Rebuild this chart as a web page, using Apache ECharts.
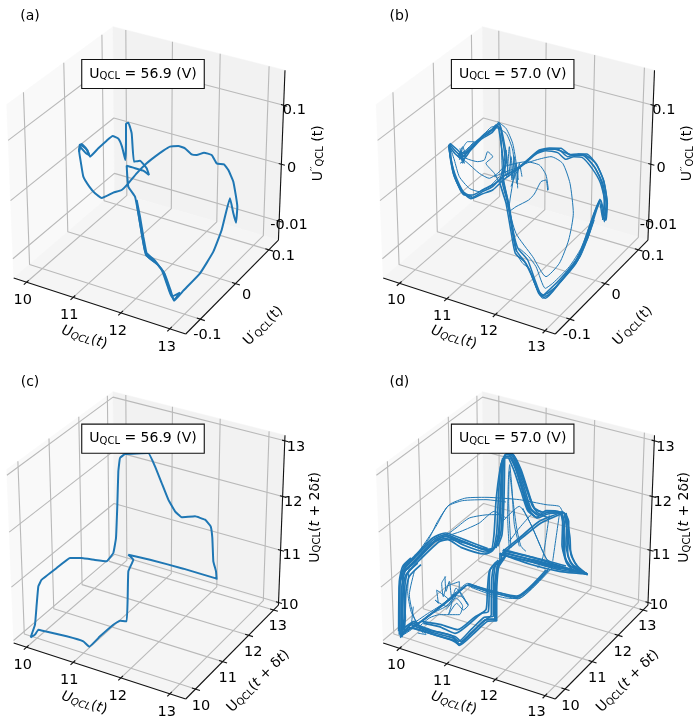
<!DOCTYPE html>
<html><head><meta charset="utf-8">
<style>html,body{margin:0;padding:0;background:#fff}#c{width:693px;height:716px}</style>
<script src="https://cdn.jsdelivr.net/npm/echarts@6/dist/echarts.min.js"></script>
</head><body><div id="c"></div>
<script>
// Axis ranges and ticks of the four 3D panels
const limitsA={x:[9.72,13.32],y:[-0.14,0.13],z:[-0.134,0.158]};
const limitsB={x:[9.65,13.2],y:[-0.14,0.13],z:[-0.134,0.158]};
const limitsC={x:[9.72,13.32],y:[9.65,13.2],z:[9.95,13.1]};
const limitsD={x:[9.65,13.2],y:[9.65,13.2],z:[9.95,13.1]};
const voltTicks=[10,11,12,13];
const derivTicks=[-0.1,0,0.1];
const derivZLabels=['-0.01','0','0.1'];
const derivYLabels=['-0.1','0','0.1'];
const voltLabels=['10','11','12','13'];
const boxTexts=['56.9','57.0','56.9','57.0'];
const panelTags=['(a)','(b)','(c)','(d)'];

// Projected trajectories (view-plane units)
const traceA1=[[240,432],[262,450],[270,470],[295,445],[320,422],[338,408],[355,416],[366,440],[376,480],[378,420],[378,372],[385,368],[395,400],[402,485],[420,482],[440,505],[447,525],[430,512],[400,503],[380,497],[385,560],[405,590],[415,640],[425,700],[438,765],[470,790],[490,815],[505,860],[522,902],[550,872],[600,820],[640,755],[665,690],[690,595],[700,640],[708,668],[712,620],[700,545],[685,510],[672,493],[650,490],[635,465],[612,458],[590,465],[575,463],[555,445],[535,438],[510,440],[490,452],[465,470],[440,490],[410,520],[385,550],[365,570],[340,578],[305,594],[285,580],[268,560],[250,530],[243,490],[237,450],[240,432]];
const traceA2=[[237,455],[245,432],[258,445],[268,465],[258,460],[240,440]];
const traceA3=[[410,600],[420,650],[430,710],[442,768],[474,795],[494,822],[512,872],[522,900],[540,878],[515,890],[500,850],[486,812],[465,782],[436,755],[422,680],[412,620]];
const traceC1=[[650,665],[648,640],[640,610],[637,540],[632,505],[615,485],[585,475],[545,478],[525,460],[505,425],[485,375],[465,325],[445,285],[375,288],[360,300],[355,340],[352,440],[348,540],[340,585],[320,610],[285,606],[245,600],[210,600],[170,630],[125,665],[115,685],[110,740],[105,800],[92,838],[105,830],[115,815],[135,820],[200,835],[250,850],[268,866],[300,835],[340,800],[360,788],[380,790],[383,720],[385,640],[400,605],[385,590],[450,605],[550,632],[650,662]];
const traceB1=[[310,432],[330,455],[350,470],[375,445],[410,410],[440,390],[458,368],[470,420],[478,490],[468,540],[485,610],[498,690],[510,750],[540,790],[560,830],[578,880],[598,895],[640,850],[690,790],[720,720],[745,640],[762,598],[775,665],[780,610],[770,550],[745,500],[715,468],[690,465],[665,470],[640,450],[605,447],[575,455],[545,480],[510,510],[470,530],[440,560],[410,575],[378,592],[350,578],[325,530],[312,470],[310,432]];
const traceB2=[[308,435],[328,462],[352,478],[380,440],[415,402],[445,385],[455,380],[465,430],[472,495],[462,545],[480,610],[495,695],[508,760],[535,785],[556,825],[575,870],[592,885],[632,858],[682,795],[715,725],[740,650],[760,605],[770,655],[775,600],[763,548],[738,505],[708,472],[684,470],[660,478],[635,458],[600,452],[570,462],[540,488],[505,515],[472,540],[440,570],[408,582],[375,596],[345,570],[322,520],[308,435]];
const traceB3=[[312,430],[335,450],[348,462],[372,452],[405,418],[438,398],[460,372],[475,430],[482,480],[472,530],[490,620],[503,700],[516,745],[545,780],[565,835],[585,885],[602,888],[645,842],[695,780],[725,710],[750,630],[764,600],[780,660],[783,612],[774,545],[752,495],[722,462],[695,462],[672,464],[645,445],[610,444],[580,450],[550,475],[515,505],[478,525],[445,552],[412,568],[380,585],[355,585],[330,540],[316,480],[312,430]];
const traceB4=[[345,460],[370,450],[400,420],[440,380],[480,400],[500,450],[505,510],[490,620],[510,700],[560,770],[600,830],[640,790],[668,720],[682,640],[672,550],[650,490],[615,470],[570,480],[530,495],[510,520],[495,560]];
const traceB5=[[455,365],[480,385],[500,430],[512,500],[515,565]];
const traceB6=[[460,380],[470,470],[482,530],[490,440],[498,540],[505,470],[512,550],[520,490],[528,530]];
const traceB7=[[605,572],[600,540],[585,545],[565,582],[548,600],[510,620],[492,632],[478,600],[465,560],[445,520],[420,490],[440,470],[425,455],[415,480],[395,485],[360,475],[345,460]];
const traceB8=[[340,480],[350,445],[365,425],[385,425],[360,450],[335,470],[360,485],[400,520],[430,535],[455,520],[475,500],[510,490],[540,485],[580,495],[600,525],[607,570]];
const traceB9=[[520,745],[548,770],[570,800],[598,865],[620,850],[670,800],[705,745],[735,665],[758,610]];
const traceB10=[[510,760],[530,790],[548,805],[563,845],[590,895],[650,835],[700,775],[718,735],[745,660]];
const traceB11=[[312,440],[325,480],[340,530],[370,565],[400,575],[430,560],[460,530]];
const traceB12=[[345,450],[355,490],[340,460],[360,470],[350,440],[340,470],[352,485],[345,455]];
const traceB13=[[308,440],[314,475],[328,525],[352,575],[378,590]];
const traceB14=[[770,660],[776,612],[768,552],[748,505],[720,470]];
const traceB15=[[778,662],[784,610],[772,540],[750,490],[718,465],[695,462]];
const traceB16=[[590,888],[640,840],[690,780],[725,715],[750,635],[762,600]];
const traceB17=[[560,468],[590,450],[625,447],[650,455],[680,466],[712,466]];
const traceB18=[[360,455],[395,420],[430,398],[450,375],[462,385]];
const traceB19=[[465,400],[470,520],[480,450],[488,530],[495,470],[503,540],[510,490],[517,540]];
const traceB20=[[445,530],[480,515],[520,500],[545,480]];
const traceB21=[[470,540],[485,600],[500,690],[512,755]];
const traceB22=[[342,445],[350,490],[358,455],[336,462],[356,480],[342,490]];
const traceD1=[[725,648],[690,632],[672,610],[660,560],[662,490],[650,462],[610,462],[580,472],[555,452],[535,390],[515,330],[497,292],[478,290],[468,320],[463,420],[458,520],[445,572],[420,582],[350,560],[300,535],[270,545],[205,610],[178,638],[168,680],[166,780],[165,835],[195,800],[215,808],[265,825],[320,840],[340,858],[380,820],[420,785],[447,782],[448,700],[455,625],[475,595],[470,582],[560,607],[650,632],[725,648]];
const traceD2=[[725,650],[695,625],[680,600],[668,550],[668,490],[655,465],[620,462],[590,462],[565,452],[545,395],[525,335],[503,292],[482,286],[472,315],[470,420],[465,520],[450,565],[425,578],[355,552],[298,530],[262,545],[200,605],[172,632],[162,675],[162,780],[163,838],[190,808],[218,815],[270,832],[325,848],[340,862],[385,825],[425,790],[452,788],[452,700],[458,628],[480,590],[472,575],[565,600],[655,628],[725,650]];
const traceD3=[[722,645],[685,638],[665,620],[652,570],[655,495],[645,465],[605,468],[575,480],[548,458],[528,395],[510,335],[493,295],[475,297],[464,325],[457,420],[452,525],[440,578],[415,588],[345,568],[305,545],[278,552],[212,615],[185,645],[176,690],[174,780],[170,830],[200,795],[212,800],[260,818],[315,832],[338,850],[375,815],[415,778],[442,775],[442,700],[448,622],[468,600],[465,590],[555,612],[645,636],[722,645]];
const traceD4=[[720,648],[680,628],[662,615],[648,560],[650,490],[640,462],[600,458],[572,478],[552,460],[532,400],[512,340],[490,300],[473,300],[462,335],[450,430],[444,530],[435,575],[410,572],[345,552],[295,542],[258,555],[195,620],[170,650],[172,690],[178,780],[168,815],[205,790],[225,810],[275,822],[328,836],[345,850],[372,828],[410,792],[436,770],[436,705],[442,630],[462,605],[462,586],[550,618],[640,640],[720,648]];
const traceD5=[[620,628],[580,670],[530,715],[510,722],[470,712],[420,700],[370,680],[340,700],[300,745],[250,770],[200,812],[165,835]];
const traceD6=[[615,622],[575,668],[525,710],[508,716],[465,705],[415,693],[365,676],[335,698],[290,738],[240,770],[190,805]];
const traceD7=[[605,640],[560,690],[518,722],[480,720],[430,708],[375,688]];
const traceD8=[[215,590],[250,540],[275,490],[310,440],[360,420],[420,418],[520,425],[600,440],[640,445],[650,462]];
const traceD9=[[205,600],[240,550],[270,505],[305,445],[350,428],[420,425],[480,432]];
const traceD10=[[290,540],[330,510],[370,480],[430,470],[460,470],[470,490]];
const traceD11=[[300,535],[345,520],[400,495],[445,460],[480,480]];
const traceD12=[[490,575],[485,480],[487,370],[491,320],[497,380],[505,500],[520,565]];
const traceD13=[[495,570],[488,430],[490,340],[500,420],[512,510],[525,565],[540,580]];
const traceD14=[[470,490],[520,445],[550,490],[590,580],[610,620]];
const traceD15=[[530,450],[560,510],[600,600],[625,620]];
const traceD16=[[610,470],[600,540],[590,600],[575,630]];
const traceD17=[[640,470],[630,540],[620,610]];
const traceD18=[[555,470],[520,510],[490,550]];
const traceD19=[[470,580],[520,540],[580,490],[650,462]];
const traceD20=[[474,584],[525,542],[585,495],[652,465]];
const traceD21=[[190,620],[185,700],[195,760],[215,800]];
const traceD22=[[205,640],[190,710],[205,780],[240,825]];
const traceD23=[[299,656],[287,676],[292,716],[302,686],[340,671],[337,706],[317,711],[347,716],[367,741],[352,756],[332,736],[307,771],[317,736],[272,696],[277,736],[267,726],[300,745],[330,720],[350,745],[340,770],[280,770],[250,780],[215,810]];
const traceD24=[[297,655],[300,700],[310,670],[318,725],[330,690],[355,725],[365,740],[340,700],[320,730],[300,755]];
const traceD25=[[232,796],[280,806],[327,826],[407,766],[427,761],[432,636],[457,606]];
const traceD26=[[228,790],[285,800],[335,815],[385,778],[420,755],[424,700],[430,640],[450,612]];
const traceD27=[[215,825],[240,830],[225,805]];
const traceD28=[[362,681],[512,718],[607,636]];
const traceD29=[[575,472],[550,450],[530,388],[510,325],[490,290]];
const traceD30=[[585,462],[560,445],[540,385],[520,328],[500,288],[480,284]];
const traceD31=[[612,481],[572,462],[542,396],[522,340],[502,291]];
const traceD32=[[570,478],[545,458],[525,400],[505,340],[488,300]];
const traceD33=[[470,300],[466,400],[460,520],[450,570]];
const traceD34=[[476,300],[474,420],[468,530],[455,565]];
const traceD35=[[160,830],[160,690],[175,635],[205,600]];
const traceD36=[[168,838],[171,700],[180,650],[215,615]];
const traceD37=[[176,820],[180,700],[190,655],[225,620]];
const traceD38=[[158,820],[160,670],[170,625],[195,600]];
const traceD39=[[175,640],[210,610],[265,552],[295,535],[350,550],[420,575],[445,570]];
const traceD40=[[170,628],[205,595],[260,540],[298,525],[355,545],[425,572]];
const traceD41=[[655,470],[665,530],[665,590],[680,620],[725,650]];
const traceD42=[[660,465],[672,540],[675,590],[695,628]];
const traceD43=[[648,470],[655,540],[658,600],[675,625],[720,648]];
const traceD44=[[340,860],[320,848],[265,830],[215,815],[195,810]];
const traceD45=[[345,855],[385,818],[420,785],[450,785]];
const traceD46=[[470,585],[560,605],[650,628],[700,640]];
const traceD47=[[466,590],[555,610],[645,632]];
const traceD48=[[480,580],[570,600],[660,624]];
const traceD49=[[447,782],[445,700],[455,620],[472,600]];
const traceD50=[[202,746],[197,796],[212,801],[232,826]];
const traceD51=[[362,681],[300,732],[232,786],[177,821]];
const traceD52=[[367,678],[512,714],[600,636]];
const traceD53=[[358,685],[295,738],[225,790],[170,828]];

const tracesA=[traceA1,traceA2,traceA3];
const tracesBBold=[traceB1,traceB2,traceB3,traceB13,traceB14,traceB15,traceB16,traceB17,traceB18,traceB21];
const tracesB=[traceB4,traceB5,traceB6,traceB7,traceB8,traceB9,traceB10,traceB11,traceB12,traceB19,traceB20,traceB22];
const tracesC=[traceC1];
const tracesDBold=[traceD1,traceD2,traceD3,traceD4,traceD19,traceD20,traceD25,traceD26,traceD28,traceD29,traceD30,traceD31,traceD32,traceD33,traceD34,traceD35,traceD36,traceD37,traceD38,traceD39,traceD40,traceD41,traceD42,traceD43,traceD44,traceD45,traceD46,traceD47,traceD48,traceD49,traceD51,traceD52,traceD53];
const tracesD=[traceD5,traceD6,traceD7,traceD8,traceD9,traceD10,traceD11,traceD12,traceD13,traceD14,traceD15,traceD16,traceD17,traceD18,traceD21,traceD22,traceD23,traceD24,traceD27,traceD50];

// matplotlib-style 3D view: elev 30, azim -60, unit cube, dist 10
const el=30*Math.PI/180, az=-60*Math.PI/180;
const box=[1,1,1];
const R=box.map(b=>b/2);
const w=[Math.cos(el)*Math.cos(az),Math.cos(el)*Math.sin(az),Math.sin(el)];
const eye=[R[0]+10*w[0],R[1]+10*w[1],R[2]+10*w[2]];
const cross=(a,b)=>[a[1]*b[2]-a[2]*b[1],a[2]*b[0]-a[0]*b[2],a[0]*b[1]-a[1]*b[0]];
const dot=(a,b)=>a[0]*b[0]+a[1]*b[1]+a[2]*b[2];
let uu=cross([0,0,1],w); const ul=Math.sqrt(dot(uu,uu)); uu=uu.map(v=>v/ul);
const vv=cross(w,uu);
function raw(nx,ny,nz){const d=[nx*box[0]-eye[0],ny*box[1]-eye[1],nz*box[2]-eye[2]];const h=-dot(d,w);return [dot(d,uu)/h,dot(d,vv)/h];}
const uL=raw(0,0,1)[0],uR=raw(1,1,1)[0],vT=raw(0,1,1)[1],vB=raw(1,0,0)[1];
const su=(855-20)/(uR-uL), sv=(1002-80)/(vB-vT);
function cageProj(n,off){const r=raw(n[0],n[1],n[2]);return [20+(r[0]-uL)*su+off[0],80+(r[1]-vT)*sv+off[1]];}

const COLS=[0,346,0,346],ROWS=[0,0,358,358];
const OFFS=[[0,0],[70.5,0],[0,21],[70.5,21]];
const LIMS=[limitsA,limitsB,limitsC,limitsD];
const TRACE_SETS=[[[tracesA,2,0.12]],[[tracesB,1,0.2],[tracesBBold,1.5,0.2]],[[tracesC,2,0.08]],[[tracesD,1,0.2],[tracesDBold,1.7,0.2]]];
const BLUE='#1f77b4';
const FF='DejaVu Sans';
const INK='#000';
const grid=[],xAxis=[],yAxis=[],series=[];

const richBase={
  n:{fontFamily:FF,fontSize:14,color:INK,lineHeight:18,verticalAlign:'middle'},
  i:{fontFamily:FF,fontSize:14,color:INK,lineHeight:18,fontStyle:'italic',verticalAlign:'middle'},
  s:{fontFamily:FF,fontSize:10,color:INK,lineHeight:18,padding:[5,0,0,0],verticalAlign:'middle'},
  si:{fontFamily:FF,fontSize:10,color:INK,lineHeight:18,padding:[5,0,0,0],fontStyle:'italic',verticalAlign:'middle'},
  p:{fontFamily:FF,fontSize:10,color:INK,lineHeight:18,padding:[0,0,5,0],verticalAlign:'middle'}
};
const xLabelText='{i|U}{si|QCL}{n|(}{i|t}{n|)}';
const yLabelD="{n|U}{p|′}{s|QCL}{n|(t)}";
const zLabelD="{n|U}{p|′′}{s|QCL}{n| (t)}";
const yLabelV='{n|U}{s|QCL}{n|(}{i|t}{n| + δ}{i|t}{n|)}';
const zLabelV='{n|U}{s|QCL}{n|(}{i|t}{n| + 2δ}{i|t}{n|)}';

function textSeries(i,items,z){
  series.push({type:'scatter',xAxisIndex:i,yAxisIndex:i,symbolSize:0,silent:true,animation:false,z:z||6,clip:false,itemStyle:{opacity:1},
    data:items.map(t=>({value:t.pos,label:{show:true,position:'inside',formatter:t.text,rotate:t.rot||0,align:'center',verticalAlign:'middle',
      rich:richBase,fontFamily:FF,fontSize:t.fs||14,color:INK,
      ...(t.box?{backgroundColor:'#fff',borderColor:'#111',borderWidth:1.1,padding:[5,7,5,7]}:{})}}))});
}
function poly(i,corners,fill,z){
  series.push({type:'custom',xAxisIndex:i,yAxisIndex:i,silent:true,animation:false,z:z,clip:false,data:[[0,0]],
    renderItem:(p,api)=>({type:'polygon',shape:{points:corners.map(q=>api.coord(q))},style:{fill:fill,stroke:fill,lineWidth:0.5}})});
}
function segs(i,list,color,width,z,smooth){
  list.forEach(pts=>series.push({type:'line',xAxisIndex:i,yAxisIndex:i,data:pts,symbol:'none',silent:true,animation:false,z:z,clip:false,
    smooth:smooth||false,lineStyle:{color:color,width:width}}));
}

for(let i=0;i<4;i++){
  grid.push({left:COLS[i],top:ROWS[i],width:346,height:358,show:false});
  xAxis.push({type:'value',gridIndex:i,min:0,max:1038,show:false});
  yAxis.push({type:'value',gridIndex:i,min:0,max:1074,inverse:true,show:false});
  const L=LIMS[i],off=OFFS[i];
  const nx=v=>(v-L.x[0])/(L.x[1]-L.x[0]),ny=v=>(v-L.y[0])/(L.y[1]-L.y[0]),nz=v=>(v-L.z[0])/(L.z[1]-L.z[0]);
  const P=(a,b,c)=>cageProj([a,b,c],off);
  poly(i,[P(0,0,0),P(0,1,0),P(0,1,1),P(0,0,1)],'#f9f9f9',1);
  poly(i,[P(0,1,0),P(1,1,0),P(1,1,1),P(0,1,1)],'#f2f2f2',1);
  poly(i,[P(0,0,0),P(1,0,0),P(1,1,0),P(0,1,0)],'#f5f5f5',1);
  const xT=voltTicks, yT=i<2?derivTicks:voltTicks, zT=i<2?derivTicks:voltTicks;
  const gl=[];
  xT.forEach(v=>gl.push([P(nx(v),0,0),P(nx(v),1,0),P(nx(v),1,1)]));
  yT.forEach(v=>gl.push([P(1,ny(v),0),P(0,ny(v),0),P(0,ny(v),1)]));
  zT.forEach(v=>gl.push([P(0,0,nz(v)),P(0,1,nz(v)),P(1,1,nz(v))]));
  segs(i,gl,'#b9b9b9',1.1,2);
  const ax=[[P(0,0,0),P(1,0,0)],[P(1,0,0),P(1,1,0)],[P(1,1,0),P(1,1,1)]];
  xT.forEach(v=>ax.push([P(nx(v),-0.025,0),P(nx(v),0.02,0)]));
  yT.forEach(v=>ax.push([P(1.025,ny(v),0),P(0.98,ny(v),0)]));
  zT.forEach(v=>ax.push([P(1.02,1,nz(v)),P(0.985,1,nz(v))]));
  segs(i,ax,'#111',1.1,3);
  TRACE_SETS[i].forEach(s=>segs(i,s[0],BLUE,s[1],4,s[2]));
  const dx=off[0],dy=off[1];
  const xLabPos=i%2===0?[[68,898],[208,945],[353,992],[500,1040]]:[[80,900],[218,948],[358,992],[501,1040]];
  const items=[];
  voltLabels.forEach((t,j)=>items.push({pos:[xLabPos[j][0]+dx,xLabPos[j][1]+dy+2],text:t,fs:14.5}));
  if(i<2){
    const yp=[[622,1005],[740,885],[850,770]],zp=[[867,676],[875,506],[883,331]];
    derivYLabels.forEach((t,j)=>items.push({pos:[yp[j][0]+dx,yp[j][1]],text:t,fs:14.5}));
    derivZLabels.forEach((t,j)=>items.push({pos:[zp[j][0]+dx,zp[j][1]],text:t,fs:14.5}));
    items.push({pos:[253+dx,1012],text:xLabelText,rot:-18});
    items.push({pos:[790+dx,978],text:yLabelD,rot:45});
    items.push({pos:[955+dx,460],text:zLabelD,rot:90});
  }else{
    const yp=[[603,1045],[683,962],[760,882],[833,805]],zp=[[868,741],[875,591],[880,434],[888,269]];
    voltLabels.forEach((t,j)=>items.push({pos:[yp[j][0]+dx,yp[j][1]],text:t,fs:14.5}));
    voltLabels.forEach((t,j)=>items.push({pos:[zp[j][0]+dx,zp[j][1]],text:t,fs:14.5}));
    items.push({pos:[253+dx,1035],text:xLabelText,rot:-18});
    items.push({pos:[775+dx,970],text:yLabelV,rot:45});
    items.push({pos:[945+dx,478],text:zLabelV,rot:90});
  }
  textSeries(i,items,6);
  if(i===0) poly(i,[[975,300],[1038,300],[1038,600],[975,600]],'#fff',7);
  textSeries(i,[{pos:[i%2===0?90:160,i<2?50:72],text:panelTags[i]}],6);
  textSeries(i,[{pos:[i%2===0?429:500,i<2?222:242],text:'{n|U}{s|QCL}{n| = '+boxTexts[i]+' (V)}',box:true}],8);
}
const chart=echarts.init(document.getElementById('c'),null,{renderer:'canvas'});
chart.setOption({animation:false,backgroundColor:'#fff',grid,xAxis,yAxis,series});
</script></body></html>
